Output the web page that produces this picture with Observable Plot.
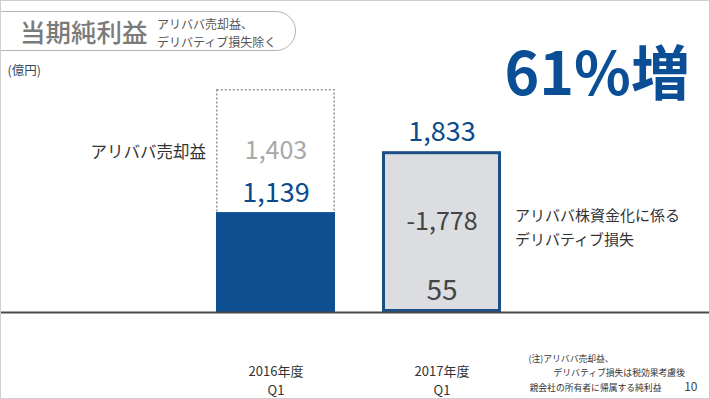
<!DOCTYPE html>
<html><head><meta charset="utf-8">
<script src="https://cdn.jsdelivr.net/npm/d3@7"></script>
<script src="https://cdn.jsdelivr.net/npm/@observablehq/plot@0.6"></script>
<style>
html,body{margin:0;padding:0;background:#fff;}
#wrap{position:relative;width:710px;height:399px;overflow:hidden;font-family:"Noto Sans CJK JP",sans-serif;}
#wrap svg{position:absolute;left:0;top:0;}
#frame{position:absolute;left:0;top:0;width:708px;height:397px;border:1px solid #cfcfcf;pointer-events:none;}
#pill{position:absolute;left:-30px;top:11px;width:324px;height:38px;border:1.3px solid #b4b4b4;border-radius:20px;}
#title{position:absolute;left:20px;top:13px;font-size:25.5px;color:#7b7b7b;line-height:36px;font-weight:500;}
#sub{position:absolute;left:157px;top:15px;font-size:12px;color:#555;line-height:18px;}
</style></head>
<body>
<div id="wrap">
  <div id="pill"></div>
  <div id="title">当期純利益</div>
  <div id="sub">アリババ売却益、<br>デリバティブ損失除く</div>
  <div id="frame"></div>
</div>
<script>
const quarters = ["2016年度\nQ1", "2017年度\nQ1"];
const coreProfit = [1139, 1833];
const adjustment = [1403, -1778];
const unitLabel = "(億円)";
const leftNote = "アリババ売却益";
const rightNote = "アリババ株資金化に係る\nデリバティブ損失";
const footnotes = ["(注)アリババ売却益、", "デリバティブ損失は税効果考慮後", "親会社の所有者に帰属する純利益"];
const pageNo = "10";

const rows = quarters.map((q, i) => ({q, core: coreProfit[i], adj: adjustment[i], rep: coreProfit[i] + adjustment[i]}));
const fmt = d => (d < 0 ? "-" : "") + d3.format(",")(Math.abs(d));
const growth = Math.round((coreProfit[1] / coreProfit[0] - 1) * 100) + "%増";
const blue = "#0d4f91";
const font = '"Noto Sans CJK JP", sans-serif';

const chart = Plot.plot({
  width: 710, height: 399, margin: 0,
  x: {domain: quarters, range: [168.5, 548.9], padding: 0.285, axis: null},
  y: {domain: [0, rows[0].rep], range: [312, 89], axis: null},
  style: {fontFamily: font, background: "transparent"},
  marks: [
    Plot.rectY([rows[0]], {x: "q", y1: 0, y2: "rep", fill: "none", stroke: "#9a9a9a", strokeWidth: 1.6, strokeDasharray: "2,2", inset: 0.8}),
    Plot.rectY([rows[0]], {x: "q", y1: 0, y2: "core", fill: blue}),
    Plot.rectY([rows[1]], {x: "q", y1: 0, y2: "core", fill: "#dcdde1", stroke: "#1c4f88", strokeWidth: 3, inset: 1.5}),
    Plot.ruleY([0], {stroke: "#4a4a4a", strokeWidth: 2}),
    // left bar labels
    Plot.text([rows[0]], {x: "q", y: d => d.core + d.adj / 2, text: d => fmt(d.adj), fill: "#a8a8a8", fontSize: 25}),
    Plot.text([rows[0]], {x: "q", y: "core", text: d => fmt(d.core), fill: "#0b4a8c", fontSize: 27, dy: -19}),
    // right bar labels
    Plot.text([rows[1]], {x: "q", y: "core", text: d => fmt(d.core), fill: "#0b4a8c", fontSize: 27, dy: -19.5}),
    Plot.text([rows[1]], {x: "q", y: d => (d.rep + d.core) / 2, text: d => fmt(d.adj), fill: "#444", fontSize: 25, dy: -7.5}),
    Plot.text([rows[1]], {x: "q", y: "rep", text: d => fmt(d.rep), fill: "#444", fontSize: 28, dy: -17}),
    // annotations
    Plot.text([rows[0]], {x: "q", y: d => d.core + d.adj / 2, text: () => leftNote, dx: -70, dy: 2, textAnchor: "end", fill: "#333", fontSize: 16.5}),
    Plot.text([rows[1]], {x: "q", y: d => (d.rep + d.core) / 2, text: () => rightNote, dx: 73, dy: -4.5, textAnchor: "start", fill: "#333", fontSize: 15, lineHeight: 1.65}),
    // category labels
    Plot.text(quarters, {x: d => d, text: d => d, frameAnchor: "bottom", lineAnchor: "middle", dy: -20, fill: "#333", fontSize: 13, lineHeight: 1.42}),
    // unit
    Plot.text([unitLabel], {frameAnchor: "top-left", dx: 7, dy: 70, textAnchor: "start", lineAnchor: "middle", fill: "#3a4660", fontSize: 12.5}),
    // big growth
    Plot.text([growth], {frameAnchor: "top-left", dx: 504, dy: 76, textAnchor: "start", lineAnchor: "middle", fill: "#0a4f96", fontSize: 59, fontWeight: "bold"}),
    // footnotes
    Plot.text([footnotes[0]], {frameAnchor: "top-left", dx: 528, dy: 359, textAnchor: "start", lineAnchor: "middle", fill: "#333", fontSize: 8.8}),
    Plot.text([footnotes[1]], {frameAnchor: "top-left", dx: 553, dy: 373, textAnchor: "start", lineAnchor: "middle", fill: "#333", fontSize: 8.8}),
    Plot.text([footnotes[2]], {frameAnchor: "top-left", dx: 529, dy: 388, textAnchor: "start", lineAnchor: "middle", fill: "#333", fontSize: 8.8}),
    Plot.text([pageNo], {frameAnchor: "top-left", dx: 697, dy: 387, textAnchor: "end", lineAnchor: "middle", fill: "#444", fontSize: 12})
  ]
});
document.getElementById("wrap").prepend(chart);
</script>
</body></html>
